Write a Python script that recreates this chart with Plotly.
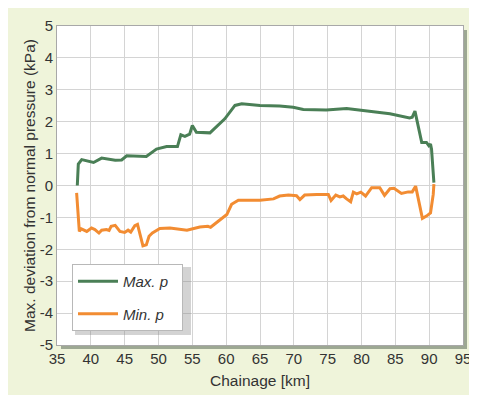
import plotly.graph_objects as go

# Max. p series (chainage km, kPa)
max_km = [38.0, 38.15, 38.65, 40.4, 41.6, 42.3, 43.6, 44.55, 45.3, 48.2, 49.7, 51.2, 52.8,
          53.3, 53.9, 54.6, 55.0, 55.6, 57.6, 59.8, 61.3, 62.3, 65.0, 67.9, 69.9, 71.4,
          74.8, 77.8, 80.2, 84.2, 87.1, 87.5, 87.9, 88.1, 88.9, 89.6, 89.95, 90.2, 90.35, 90.7]
max_p = [0.0, 0.67, 0.81, 0.72, 0.86, 0.83, 0.79, 0.80, 0.93, 0.91, 1.14, 1.22, 1.22,
         1.59, 1.54, 1.61, 1.88, 1.67, 1.65, 2.09, 2.51, 2.56, 2.51, 2.49, 2.45, 2.38,
         2.37, 2.41, 2.35, 2.25, 2.12, 2.14, 2.33, 2.14, 1.35, 1.35, 1.25, 1.30, 1.14, 0.09]

# Min. p series
min_km = [37.9, 38.3, 38.6, 39.4, 40.1, 40.6, 41.2, 41.6, 42.3, 42.7, 43.0, 43.6, 44.3, 45.0,
          45.5, 45.9, 46.5, 46.9, 47.7, 48.2, 48.6, 49.1, 50.2, 51.7, 54.2, 56.1, 57.3, 57.7,
          60.1, 60.8, 61.8, 65.0, 67.0, 67.9, 69.2, 70.4, 70.9, 71.6, 73.4, 75.1, 75.5, 76.2,
          76.8, 77.3, 77.8, 78.4, 78.8, 79.3, 79.9, 80.6, 81.5, 82.7, 83.4, 84.2, 84.8, 85.9,
          86.9, 87.5, 88.0, 89.0, 89.6, 90.2, 90.6, 90.7]
min_p = [-0.23, -1.44, -1.36, -1.44, -1.33, -1.38, -1.49, -1.40, -1.38, -1.41, -1.28, -1.25,
         -1.44, -1.47, -1.40, -1.46, -1.26, -1.22, -1.89, -1.86, -1.59, -1.49, -1.35, -1.33,
         -1.40, -1.30, -1.28, -1.31, -0.91, -0.59, -0.46, -0.46, -0.42, -0.33, -0.30, -0.32,
         -0.44, -0.30, -0.28, -0.28, -0.47, -0.30, -0.36, -0.33, -0.42, -0.51, -0.21, -0.26,
         -0.21, -0.33, -0.07, -0.07, -0.31, -0.10, -0.09, -0.25, -0.20, -0.20, -0.02, -1.03,
         -0.96, -0.86, -0.28, 0.04]

x_ticks = list(range(35, 100, 5))
y_ticks = list(range(-5, 6, 1))

GREEN = "#4a7f56"
ORANGE = "#f28c32"
FONT = "Liberation Sans, Arial, sans-serif"

fig = go.Figure()
fig.add_trace(go.Scatter(x=max_km, y=max_p, mode="lines", name="<i>Max. p</i>&nbsp;&nbsp;",
                         legendgroup="a", line=dict(color=GREEN, width=3)))
fig.add_trace(go.Scatter(x=min_km, y=min_p, mode="lines", name="<i>Min. p</i>&nbsp;&nbsp;",
                         legendgroup="b", line=dict(color=ORANGE, width=3)))

W, H = 477, 395
OFF = 8  # page body margin
ml, mr, mt, mb = 57 - OFF, 22, 26 - OFF, 58
pw, ph = W - ml - mr, H - mt - mb
plot_bottom = H - mb  # figure px
dx, dy = 4 / pw, 4 / ph

leg_l, leg_t, leg_r, leg_b = 72 - OFF, 264 - OFF, 188 - OFF, 332 - OFF

shapes = [
    # plot-area shadow
    dict(type="rect", xref="paper", yref="paper", x0=dx, x1=1 + dx, y0=-dy, y1=1 - dy,
         fillcolor="rgba(90,105,90,0.55)", line=dict(width=0), layer="below"),
    # plot-area white background
    dict(type="rect", xref="paper", yref="paper", x0=0, x1=1, y0=0, y1=1,
         fillcolor="white", line=dict(width=0), layer="below"),
    # legend shadow
    dict(type="rect", xref="paper", yref="paper",
         x0=(leg_l - ml + 3) / pw, x1=(leg_r - ml + 3) / pw,
         y0=(plot_bottom - leg_b - 3) / ph, y1=(plot_bottom - leg_t - 3) / ph,
         fillcolor="rgba(130,130,130,0.35)", line=dict(width=0), layer="above"),
]

TITLE_FONT = dict(family=FONT, size=15.5, color="#333333")

fig.update_layout(
    width=W, height=H,
    margin=dict(l=ml, r=mr, t=mt, b=mb, autoexpand=False),
    paper_bgcolor="#eff4da",
    plot_bgcolor="rgba(0,0,0,0)",
    font=dict(family=FONT, size=15, color="#333333"),
    showlegend=True,
    legend=dict(x=(leg_l - ml) / pw, y=(plot_bottom - leg_t) / ph, xanchor="left", yanchor="top",
                bgcolor="white", bordercolor="#b8b8b8", borderwidth=1,
                font=dict(family=FONT, size=15, color="#333333"),
                tracegroupgap=10, itemwidth=40),
    shapes=shapes,
    xaxis=dict(range=[35, 95], tickvals=x_ticks, ticktext=[str(v) for v in x_ticks],
               showgrid=True, gridcolor="#d4d4d4", gridwidth=1, zeroline=False,
               showline=True, linecolor="#a8a8a8", mirror=True, ticks="",
               automargin=False,
               title=dict(text="Chainage [km]", standoff=9, font=TITLE_FONT)),
    yaxis=dict(range=[-5, 5], tickvals=y_ticks, ticktext=[str(v) for v in y_ticks],
               showgrid=True, gridcolor="#d4d4d4", gridwidth=1, zeroline=False,
               showline=True, linecolor="#a8a8a8", mirror=True, ticks="",
               automargin=False,
               title=dict(text="Max. deviation from normal pressure (kPa)", standoff=0,
                          font=TITLE_FONT)),
)

fig.write_html("out.html")
